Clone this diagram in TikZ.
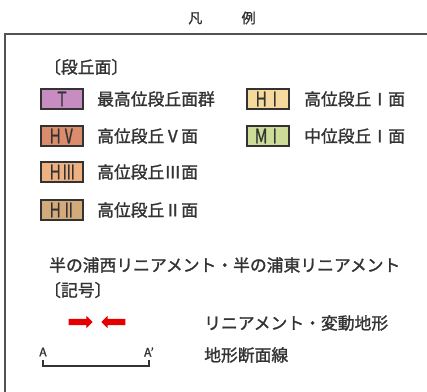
\documentclass[tikz,border=0pt]{standalone}
\usepackage{fontspec}
\setmainfont{Noto Sans CJK JP}[FakeBold=1.4]
\usetikzlibrary{shapes.arrows}
\definecolor{ink}{HTML}{333333}
\definecolor{cT}{HTML}{C78DC0}
\definecolor{cHV}{HTML}{DB8C6C}
\definecolor{cHIII}{HTML}{EEB282}
\definecolor{cHII}{HTML}{D3AA7A}
\definecolor{cHI}{HTML}{F6D99C}
\definecolor{cMI}{HTML}{CDDD98}
\newcommand{\swlabel}[1]{\scalebox{0.68}[1]{#1}}
\tikzset{
	swatch/.style={draw=ink, line width=1.2pt, minimum width=42pt, minimum height=20pt,
		inner sep=0pt, text=ink, font=\fontsize{20}{20}\selectfont},
	legtext/.style={anchor=west, inner sep=0pt, text=ink, font=\fontsize{16.8}{18}\selectfont},
	redarrow/.style={single arrow, fill=red!90!black, draw=none, minimum height=24pt,
		inner sep=3pt, single arrow head extend=3pt, single arrow head indent=0pt}
}
\begin{document}
\begin{tikzpicture}[x=1pt, y=-1pt]
	\useasboundingbox (0,0) rectangle (427,391);
	\draw [draw=ink!85, line width=1.5pt] (430,34) -- (5,34) -- (5,395);
	\node (title) at (222,18) [text=ink, font=\fontsize{14}{14}\selectfont]{凡\hspace{2.8em}例};
	% terraces
	\node (terr) at (44,67) [legtext]{〔段丘面〕};
	\node (T) at (62,99) [swatch, fill=cT]{\swlabel{Ｔ}};
	\node (HV) at (62,136) [swatch, fill=cHV]{\swlabel{ＨⅤ}};
	\node (H3) at (62,172) [swatch, fill=cHIII]{\swlabel{ＨⅢ}};
	\node (H2) at (62,210) [swatch, fill=cHII]{\swlabel{ＨⅡ}};
	\node (H1) at (268,99) [swatch, fill=cHI]{\swlabel{ＨⅠ}};
	\node (M1) at (268,136) [swatch, fill=cMI]{\swlabel{ＭⅠ}};
	\node (tT) at (97,99) [legtext]{最高位段丘面群};
	\node (tHV) at (97,136) [legtext]{高位段丘Ⅴ面};
	\node (tH3) at (97,172) [legtext]{高位段丘Ⅲ面};
	\node (tH2) at (97,210) [legtext]{高位段丘Ⅱ面};
	\node (tH1) at (304,99) [legtext]{高位段丘Ⅰ面};
	\node (tM1) at (304,136) [legtext]{中位段丘Ⅰ面};
	% lineaments
	\node (lin) at (49,265) [legtext]{半の浦西リニアメント・半の浦東リニアメント};
	\node (sym) at (44,290) [legtext]{〔記号〕};
	\node (ar1) at (79,322) [redarrow]{};
	\node (ar2) at (115,322) [redarrow, shape border rotate=180]{};
	\node (tar) at (204,323) [legtext]{リニアメント・変動地形};
	\node (A1) at (43,352) [text=ink, font=\fontsize{12}{12}\selectfont]{A};
	\node (A2) at (149,352) [text=ink, font=\fontsize{12}{12}\selectfont]{A’};
	\coordinate (p1) at (43,360);
	\coordinate (p2) at (149,360);
	\draw [-, draw=ink, line width=1.5pt] (p1) -- ++(0,6) -| (p2);
	\node (tsec) at (204,355) [legtext]{地形断面線};
\end{tikzpicture}
\end{document}
